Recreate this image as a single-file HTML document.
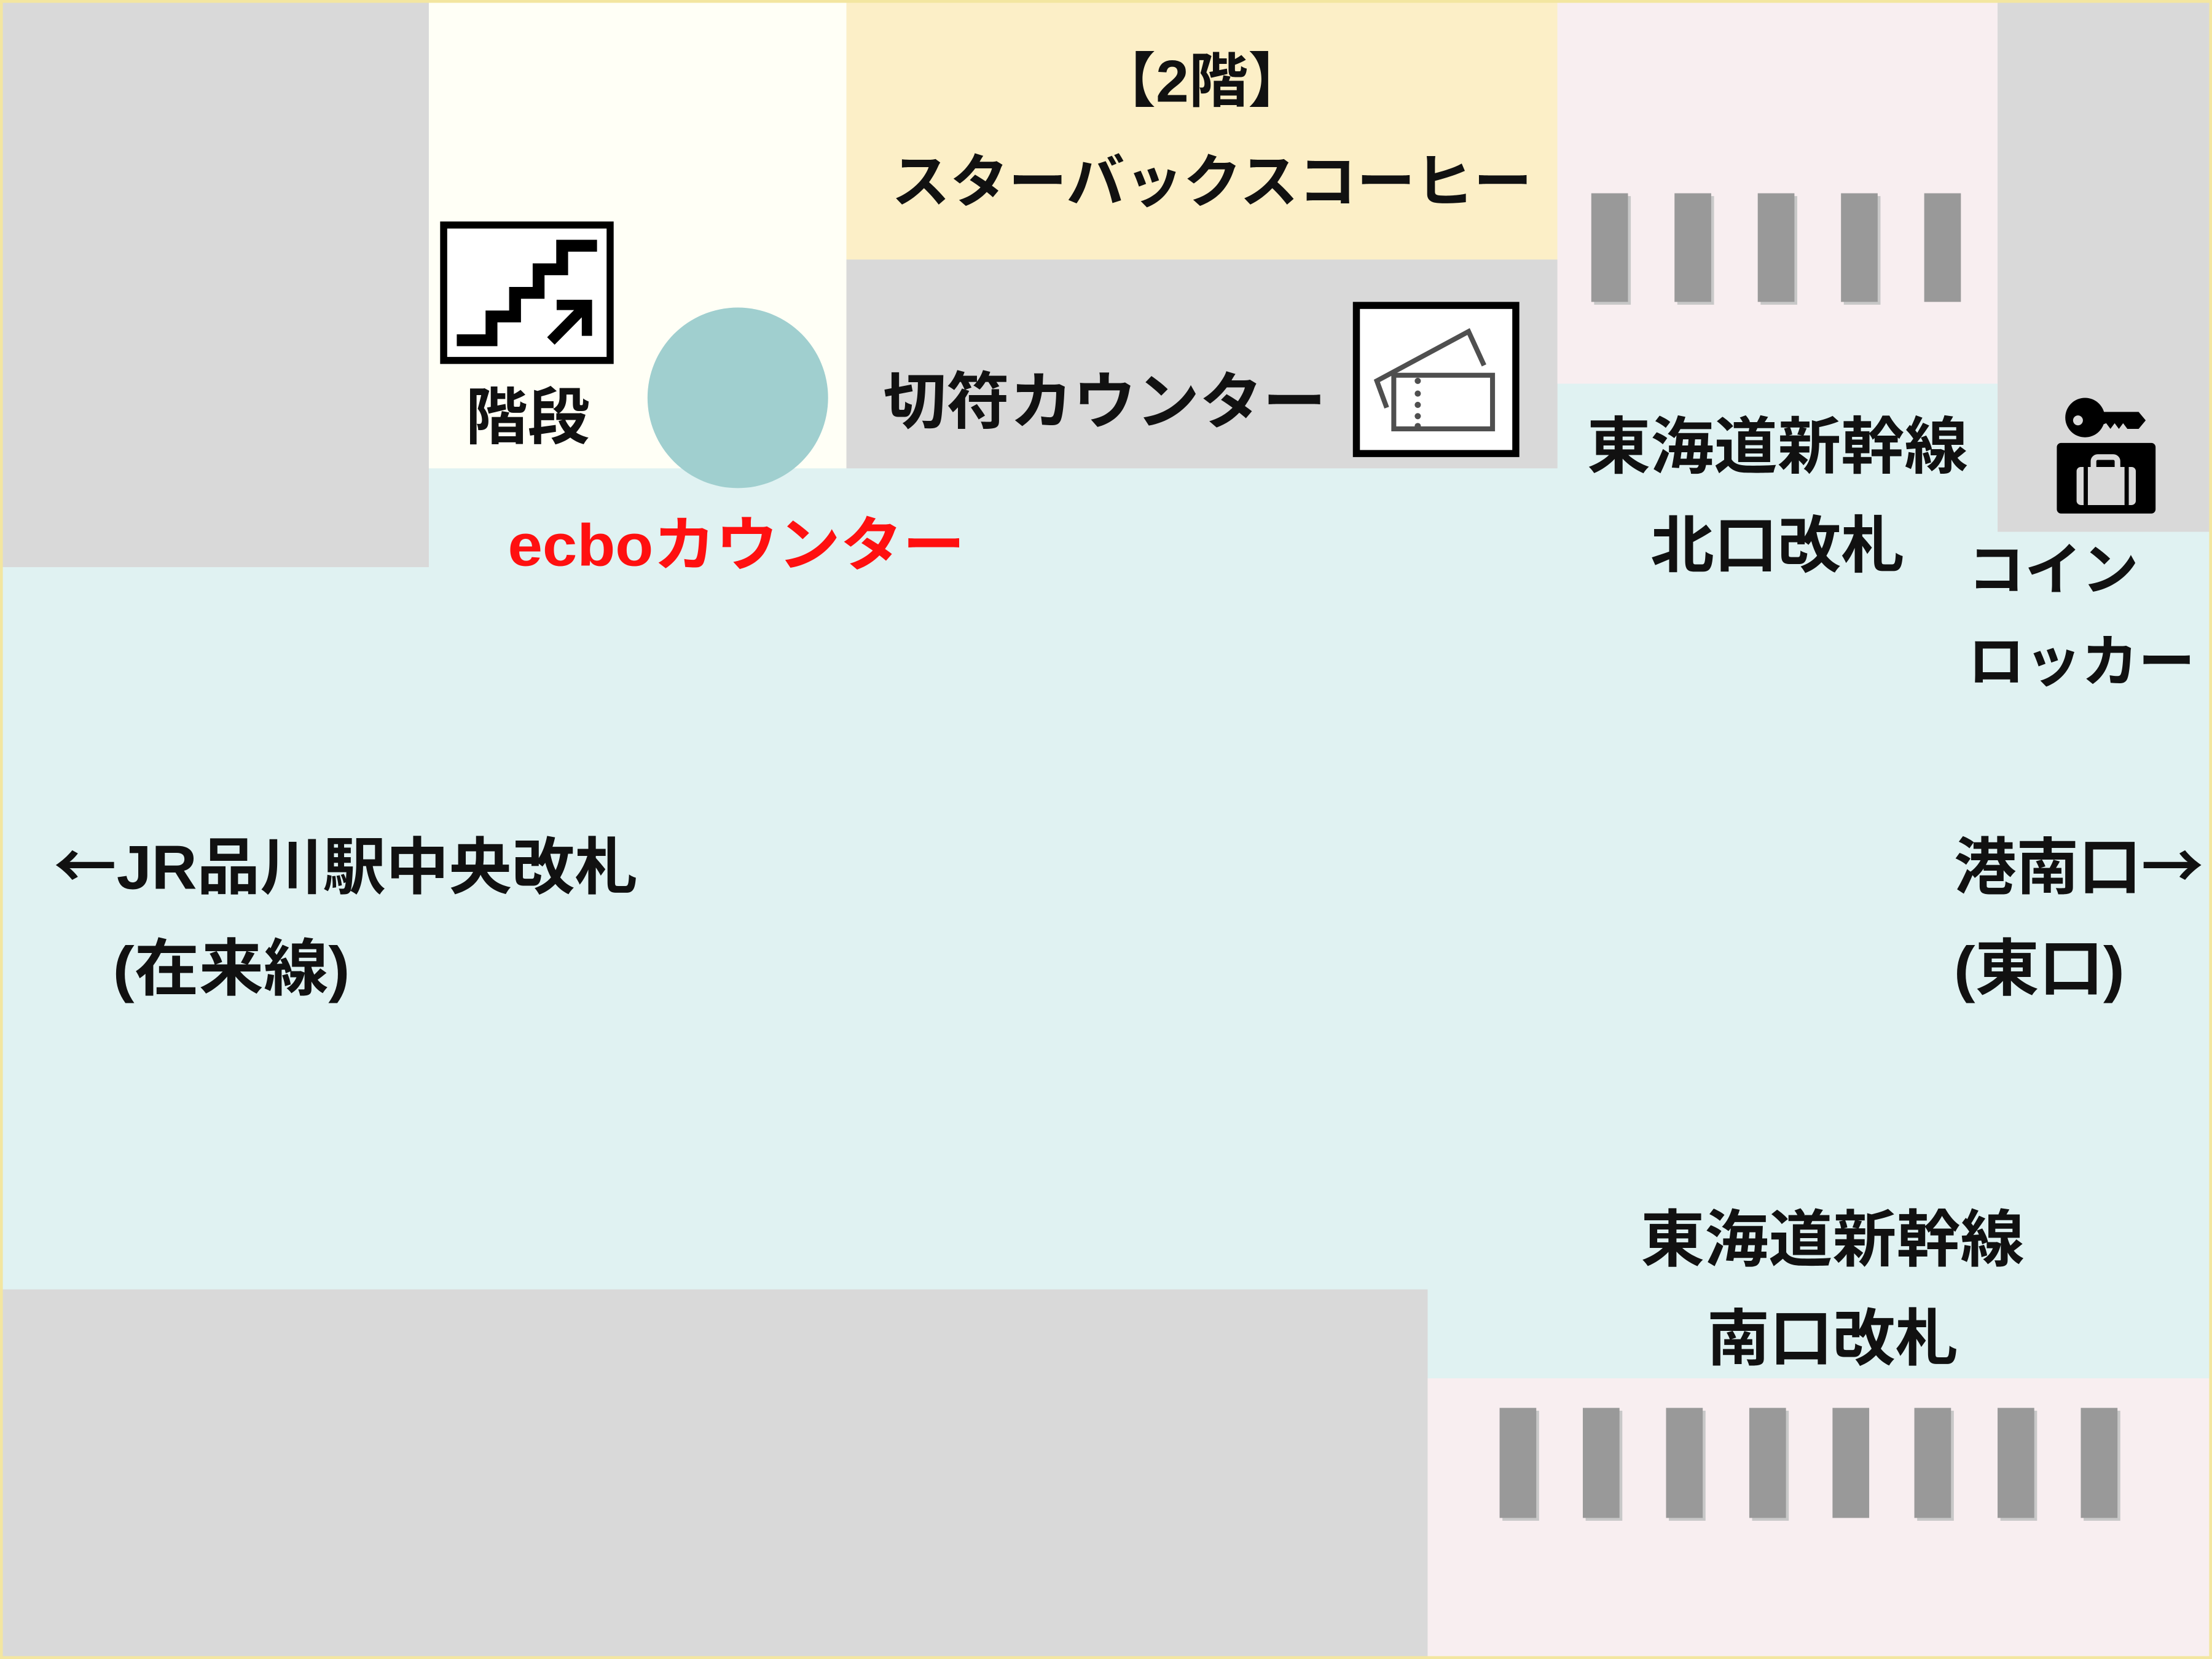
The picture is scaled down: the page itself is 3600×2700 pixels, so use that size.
<!DOCTYPE html>
<html><head><meta charset="utf-8"><style>html,body{margin:0;padding:0;background:#e0f2f2}svg{display:block}</style></head>
<body>
<svg xmlns="http://www.w3.org/2000/svg" width="3600" height="2700" viewBox="0 0 1568 1176">
<rect x="0" y="0" width="1568" height="1176" fill="#e0f2f2"/>
<rect x="0" y="0" width="304" height="402" fill="#d9d9d9"/>
<rect x="304" y="0" width="296" height="332" fill="#fffff6"/>
<rect x="600" y="0" width="504" height="184" fill="#fcefc7"/>
<rect x="600" y="184" width="504" height="148" fill="#d9d9d9"/>
<rect x="1104" y="0" width="312" height="272" fill="#f8eef0"/>
<rect x="1416" y="0" width="152" height="377" fill="#d9d9d9"/>
<rect x="0" y="914" width="1012" height="262" fill="#d9d9d9"/>
<rect x="1012" y="977" width="556" height="199" fill="#f8eef0"/>
<rect x="1" y="1" width="1566" height="1174" fill="none" stroke="#f3e6a0" stroke-width="2"/>
<g fill="#c8c8c8">
<rect x="1130" y="139" width="26" height="77"/><rect x="1189" y="139" width="26" height="77"/><rect x="1248" y="139" width="26" height="77"/><rect x="1307" y="139" width="26" height="77"/>
<rect x="1065" y="1000" width="26" height="78"/><rect x="1124" y="1000" width="26" height="78"/><rect x="1183" y="1000" width="26" height="78"/><rect x="1242" y="1000" width="26" height="78"/><rect x="1359" y="1000" width="26" height="78"/><rect x="1418" y="1000" width="26" height="78"/><rect x="1477" y="1000" width="26" height="78"/>
</g>
<g fill="#999">
<rect x="1128" y="137" width="26" height="77"/><rect x="1187" y="137" width="26" height="77"/><rect x="1246" y="137" width="26" height="77"/><rect x="1305" y="137" width="26" height="77"/><rect x="1364" y="137" width="26" height="77"/>
<rect x="1063" y="998" width="26" height="78"/><rect x="1122" y="998" width="26" height="78"/><rect x="1181" y="998" width="26" height="78"/><rect x="1240" y="998" width="26" height="78"/><rect x="1299" y="998" width="26" height="78"/><rect x="1357" y="998" width="26" height="78"/><rect x="1416" y="998" width="26" height="78"/><rect x="1475" y="998" width="26" height="78"/>
</g>
<circle cx="523" cy="282" r="64" fill="#a0cfcf"/>
<!-- stairs icon -->
<rect x="314.5" y="159.5" width="118" height="96" fill="#fff" stroke="#000" stroke-width="5"/>
<polyline points="323.8,241.2 348.4,241.2 348.4,224.3 365.1,224.3 365.1,207.6 381.8,207.6 381.8,190.9 398.5,190.9 398.5,174.2 423.2,174.2" fill="none" stroke="#000" stroke-width="8.4" stroke-linejoin="miter" stroke-linecap="butt"/>
<path d="M390.5 241.7 L413 219" stroke="#000" stroke-width="7.5"/>
<polygon points="394.6,212.5 419.7,212.5 419.7,238.1 412.4,238.1 412.4,219.8 394.6,219.8" fill="#000"/>
<!-- ticket icon -->
<rect x="961.5" y="216.5" width="113" height="105" fill="#fff" stroke="#000" stroke-width="5"/>
<g fill="none" stroke="#4f4f4f" stroke-width="3.5">
<polyline points="983,289 976,270 1041,235 1052,259"/>
<rect x="988" y="266" width="70" height="38"/>
</g>
<g fill="#4f4f4f"><circle cx="1005" cy="270" r="2.2"/><circle cx="1005" cy="279" r="2.2"/><circle cx="1005" cy="287" r="2.2"/><circle cx="1005" cy="295" r="2.2"/><circle cx="1005" cy="302" r="2.2"/></g>
<!-- locker icon -->
<circle cx="1478" cy="296" r="14" fill="#000"/>
<circle cx="1473" cy="298" r="3.5" fill="#d9d9d9"/>
<path d="M1488 292 L1516 292 L1521 298 L1516 304 L1508 304 L1505 300 L1502 304 L1499 300 L1496 304 L1493 300 L1488 302 Z" fill="#000"/>
<rect x="1458" y="314" width="70" height="50" rx="3" fill="#000"/>
<rect x="1472" y="331" width="42" height="27" rx="3" fill="#d9d9d9"/>
<rect x="1484" y="324" width="17" height="12" rx="3" fill="none" stroke="#d9d9d9" stroke-width="4"/>
<rect x="1477" y="331" width="3" height="27" fill="#000"/><rect x="1506" y="331" width="3" height="27" fill="#000"/>
<g font-family="'Liberation Sans','Noto Sans CJK JP',sans-serif" font-weight="bold" font-size="44" fill="#111">
<text x="852" y="72" text-anchor="middle" font-size="42">【2階】</text>
<text x="632" y="143" textLength="454" lengthAdjust="spacingAndGlyphs" font-size="41">スターバックスコーヒー</text>
<text x="330" y="311" textLength="88" lengthAdjust="spacingAndGlyphs">階段</text>
<text x="626" y="300" textLength="314" lengthAdjust="spacingAndGlyphs">切符カウンター</text>
<text x="360" y="401" textLength="324" lengthAdjust="spacingAndGlyphs" fill="#ff1010" font-size="42">ecboカウンター</text>
<text x="1125" y="332" textLength="270" lengthAdjust="spacingAndGlyphs">東海道新幹線</text>
<text x="1170" y="402" textLength="180" lengthAdjust="spacingAndGlyphs">北口改札</text>
<text x="1395" y="418" textLength="121" lengthAdjust="spacingAndGlyphs" font-size="40">コイン</text>
<text x="1395" y="483" textLength="161" lengthAdjust="spacingAndGlyphs" font-size="40">ロッカー</text>
<text x="38" y="630" textLength="414" lengthAdjust="spacingAndGlyphs"><tspan font-family="'Noto Sans CJK JP',sans-serif">←</tspan>JR品川駅中央改札</text>
<text x="80" y="702" textLength="168" lengthAdjust="spacingAndGlyphs">(在来線)</text>
<text x="1385" y="630" textLength="177" lengthAdjust="spacingAndGlyphs">港南口<tspan font-family="'Noto Sans CJK JP',sans-serif">→</tspan></text>
<text x="1385" y="702" textLength="121" lengthAdjust="spacingAndGlyphs">(東口)</text>
<text x="1163" y="894" textLength="272" lengthAdjust="spacingAndGlyphs">東海道新幹線</text>
<text x="1210" y="964" textLength="178" lengthAdjust="spacingAndGlyphs">南口改札</text>
</g>
</svg>
</body></html>
